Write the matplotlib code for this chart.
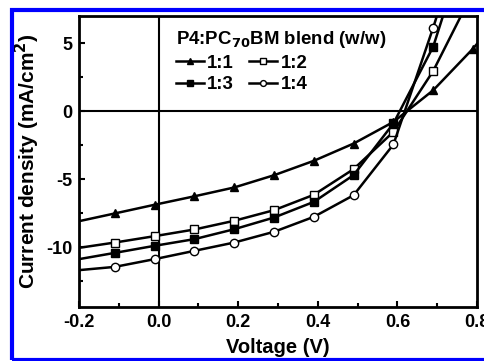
import matplotlib
matplotlib.use("Agg")
import matplotlib.pyplot as plt
from matplotlib.patches import Rectangle
from matplotlib.ticker import MultipleLocator, FormatStrFormatter

plt.rcParams['font.family'] = ['Liberation Sans', 'DejaVu Sans']
plt.rcParams['font.weight'] = 'bold'
plt.rcParams['mathtext.default'] = 'bf'

# Voltage (V) and current density (mA/cm^2)
v_11 = [-0.20, -0.11, -0.01, 0.09, 0.19, 0.29, 0.39, 0.49, 0.59, 0.69, 0.79, 0.81]
j_11 = [-8.09, -7.52, -6.88, -6.26, -5.61, -4.71, -3.65, -2.38, -0.79, 1.54, 4.60, 5.30]
m_11 = [1, 2, 3, 4, 5, 6, 7, 8, 9, 10]

v_12 = [-0.20, -0.11, -0.01, 0.09, 0.19, 0.29, 0.39, 0.49, 0.59, 0.69, 0.77]
j_12 = [-10.05, -9.66, -9.19, -8.70, -8.06, -7.28, -6.15, -4.26, -1.52, 2.96, 7.60]
m_12 = [1, 2, 3, 4, 5, 6, 7, 8, 9, 10]

v_13 = [-0.20, -0.11, -0.01, 0.09, 0.19, 0.29, 0.39, 0.49, 0.59, 0.69, 0.72]
j_13 = [-10.88, -10.42, -9.90, -9.41, -8.68, -7.82, -6.67, -4.70, -0.90, 4.75, 7.50]
m_13 = [1, 2, 3, 4, 5, 6, 7, 8, 9, 10]

v_14 = [-0.20, -0.11, -0.01, 0.09, 0.19, 0.29, 0.39, 0.49, 0.59, 0.69, 0.71]
j_14 = [-11.69, -11.45, -10.88, -10.27, -9.66, -8.87, -7.77, -6.18, -2.45, 6.15, 8.00]
m_14 = [1, 2, 3, 4, 5, 6, 7, 8, 9, 10]

labels = ['1:1', '1:2', '1:3', '1:4']

fig = plt.figure(figsize=(4.85, 3.61), dpi=100)
ax = fig.add_axes([0.1629, 0.1496, 0.8206, 0.8061])

ax.axhline(0, color='black', lw=1.5, zorder=1)
ax.axvline(0, color='black', lw=1.5, zorder=1)

kw = dict(color='black', lw=1.8, ms=6, mew=1.0, mec='black', zorder=3)
h11, = ax.plot(v_11, j_11, marker='^', mfc='black', markevery=m_11, label=labels[0], **kw)
h12, = ax.plot(v_12, j_12, marker='s', mfc='white', markevery=m_12, label=labels[1], **kw)
h13, = ax.plot(v_13, j_13, marker='s', mfc='black', markevery=m_13, label=labels[2], **kw)
h14, = ax.plot(v_14, j_14, marker='o', mfc='white', markevery=m_14, label=labels[3], **kw)

ax.set_xlim(-0.2, 0.8)
ax.set_ylim(-14.4, 7.0)
ax.xaxis.set_major_locator(MultipleLocator(0.2))
ax.xaxis.set_minor_locator(MultipleLocator(0.1))
ax.yaxis.set_major_locator(MultipleLocator(5))
ax.yaxis.set_minor_locator(MultipleLocator(2.5))
ax.tick_params(which='both', direction='in', width=1.5, labelsize=13, pad=5)
ax.tick_params(which='major', length=4.5)
ax.tick_params(which='minor', length=3)
ax.xaxis.set_major_formatter(FormatStrFormatter('%.1f'))
ax.yaxis.set_major_formatter(FormatStrFormatter('%d'))
for lab in ax.get_xticklabels() + ax.get_yticklabels():
    lab.set_fontweight('bold')
for s in ax.spines.values():
    s.set_linewidth(2)

ax.set_xlabel('Voltage (V)', fontsize=14.5, fontweight='bold', labelpad=5)
ax.set_ylabel('Current density (mA/cm$^{2}$)', fontsize=15, fontweight='bold', labelpad=3)

leg = ax.legend([h11, h13, h12, h14], [labels[0], labels[2], labels[1], labels[3]],
                ncol=2, loc='upper left', bbox_to_anchor=(0.21, 1.0), frameon=False,
                title='P4:PC$_{70}$BM blend (w/w)', handlelength=1.5,
                columnspacing=0.8, handletextpad=0.2, labelspacing=0.25,
                borderpad=0.2, prop={'weight': 'bold', 'size': 13.4}, markerscale=0.7)
leg.get_title().set_fontweight('bold')
leg.get_title().set_fontsize(13.4)
leg._legend_box.align = 'left'

fig.patches.append(Rectangle((12 / 485, 1 / 361), 520 / 485, 350.5 / 361,
                             transform=fig.transFigure, fill=False,
                             edgecolor='#0000ff', lw=3, zorder=10))

fig.savefig('out.png', dpi=100)
